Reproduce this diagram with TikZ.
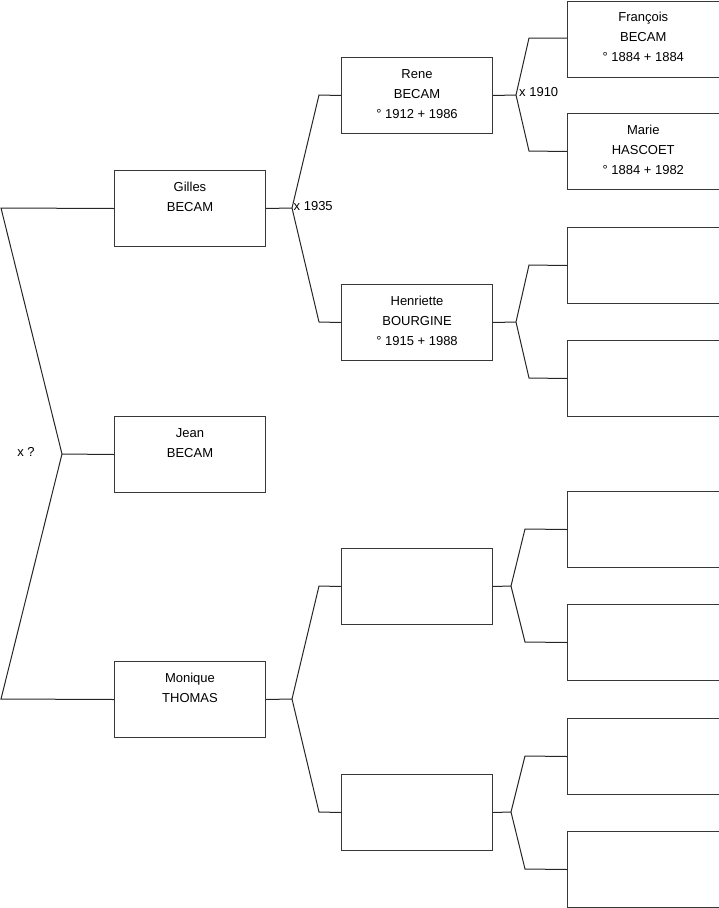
\documentclass[tikz,border=0pt]{standalone}
\usepackage{fontspec}
\setmainfont{Liberation Sans}
\begin{document}
\begin{tikzpicture}[x=1pt,y=-1pt,
  box/.style={draw=black!78, line width=1pt, rectangle, anchor=north west, minimum width=151pt, minimum height=76pt, inner sep=0pt},
  boxr/.style={box, minimum width=151.5pt},
  txt/.style={anchor=north, align=center, inner sep=0pt, font=\fontsize{13}{20}\selectfont, execute at begin node={\rule{0pt}{10pt}}},
  lbl/.style={inner sep=0pt, font=\fontsize{13}{15}\selectfont},
  conn/.style={draw=black!85, line width=1pt, line join=miter}]
\useasboundingbox (0,0) rectangle (719,908);
% column A
\node[box] (gilles) at (114,170) {};
\node[box] (jean) at (114,416) {};
\node[box] (monique) at (114,661) {};
% column B
\node[box] (rene) at (341,57) {};
\node[box] (henriette) at (341,284) {};
\node[box] (b3) at (341,548) {};
\node[box] (b4) at (341,774) {};
% column C
\node[boxr] (francois) at (567,0.5) {};
\node[boxr] (marie) at (567,113) {};
\node[boxr] (c3) at (567,227) {};
\node[boxr] (c4) at (567,340) {};
\node[boxr] (c5) at (567,491) {};
\node[boxr] (c6) at (567,604) {};
\node[boxr] (c7) at (567,718) {};
\node[boxr] (c8) at (567,831) {};
% texts
\node[txt] (gillesT) at ([yshift=-12pt]gilles.north) {Gilles\\BECAM};
\node[txt] (jeanT) at ([yshift=-12pt]jean.north) {Jean\\BECAM};
\node[txt] (moniqueT) at ([yshift=-12pt]monique.north) {Monique\\THOMAS};
\node[txt] (reneT) at ([yshift=-12pt]rene.north) {Rene\\BECAM\\° 1912 + 1986};
\node[txt] (henrietteT) at ([yshift=-12pt]henriette.north) {Henriette\\BOURGINE\\° 1915 + 1988};
\node[txt] (francoisT) at ([yshift=-11.5pt]francois.north) {François\\BECAM\\° 1884 + 1884};
\node[txt] (marieT) at ([yshift=-12pt]marie.north) {Marie\\HASCOET\\° 1884 + 1982};
% junctions and corners
\coordinate (c0a) at (1,208);
\coordinate (j0) at (62,454);
\coordinate (c0b) at (1,699);
\coordinate (j1) at (292,208);
\coordinate (k1a) at (319,95);
\coordinate (k1b) at (319,322);
\coordinate (j2) at (516,95);
\coordinate (k2a) at (529,38);
\coordinate (k2b) at (529,151);
\coordinate (j3) at (516,322);
\coordinate (k3a) at (529,265);
\coordinate (k3b) at (529,378);
\coordinate (j4) at (292,699);
\coordinate (k4a) at (319,586);
\coordinate (k4b) at (319,812);
\coordinate (j5) at (511,586);
\coordinate (k5a) at (525,529);
\coordinate (k5b) at (525,642);
\coordinate (j6) at (511,812);
\coordinate (k6a) at (525,756);
\coordinate (k6b) at (525,869);
% connectors
\draw[conn] (gilles.west) -- (c0a) -- (j0) -- (c0b) -- (monique.west);
\draw[conn] (j0) -- (jean.west);
\draw[conn] (gilles.east) -- (j1);
\draw[conn] (rene.west) -- (k1a) -- (j1) -- (k1b) -- (henriette.west);
\draw[conn] (rene.east) -- (j2);
\draw[conn] (francois.west |- k2a) -- (k2a) -- (j2) -- (k2b) -- (marie.west);
\draw[conn] (henriette.east) -- (j3);
\draw[conn] (c3.west) -- (k3a) -- (j3) -- (k3b) -- (c4.west);
\draw[conn] (monique.east) -- (j4);
\draw[conn] (b3.west) -- (k4a) -- (j4) -- (k4b) -- (b4.west);
\draw[conn] (b3.east) -- (j5);
\draw[conn] (c5.west) -- (k5a) -- (j5) -- (k5b) -- (c6.west);
\draw[conn] (b4.east) -- (j6);
\draw[conn] (c7.west) -- (k6a) -- (j6) -- (k6b) -- (c8.west);
% labels
\node[lbl, anchor=center] (mq) at (26,452) {x ?};
\node[lbl, anchor=west] (m1935) at ([xshift=1.5pt,yshift=2pt]j1) {x 1935};
\node[lbl, anchor=west] (m1910) at ([xshift=3pt,yshift=2.5pt]j2) {x 1910};
\end{tikzpicture}
\end{document}
